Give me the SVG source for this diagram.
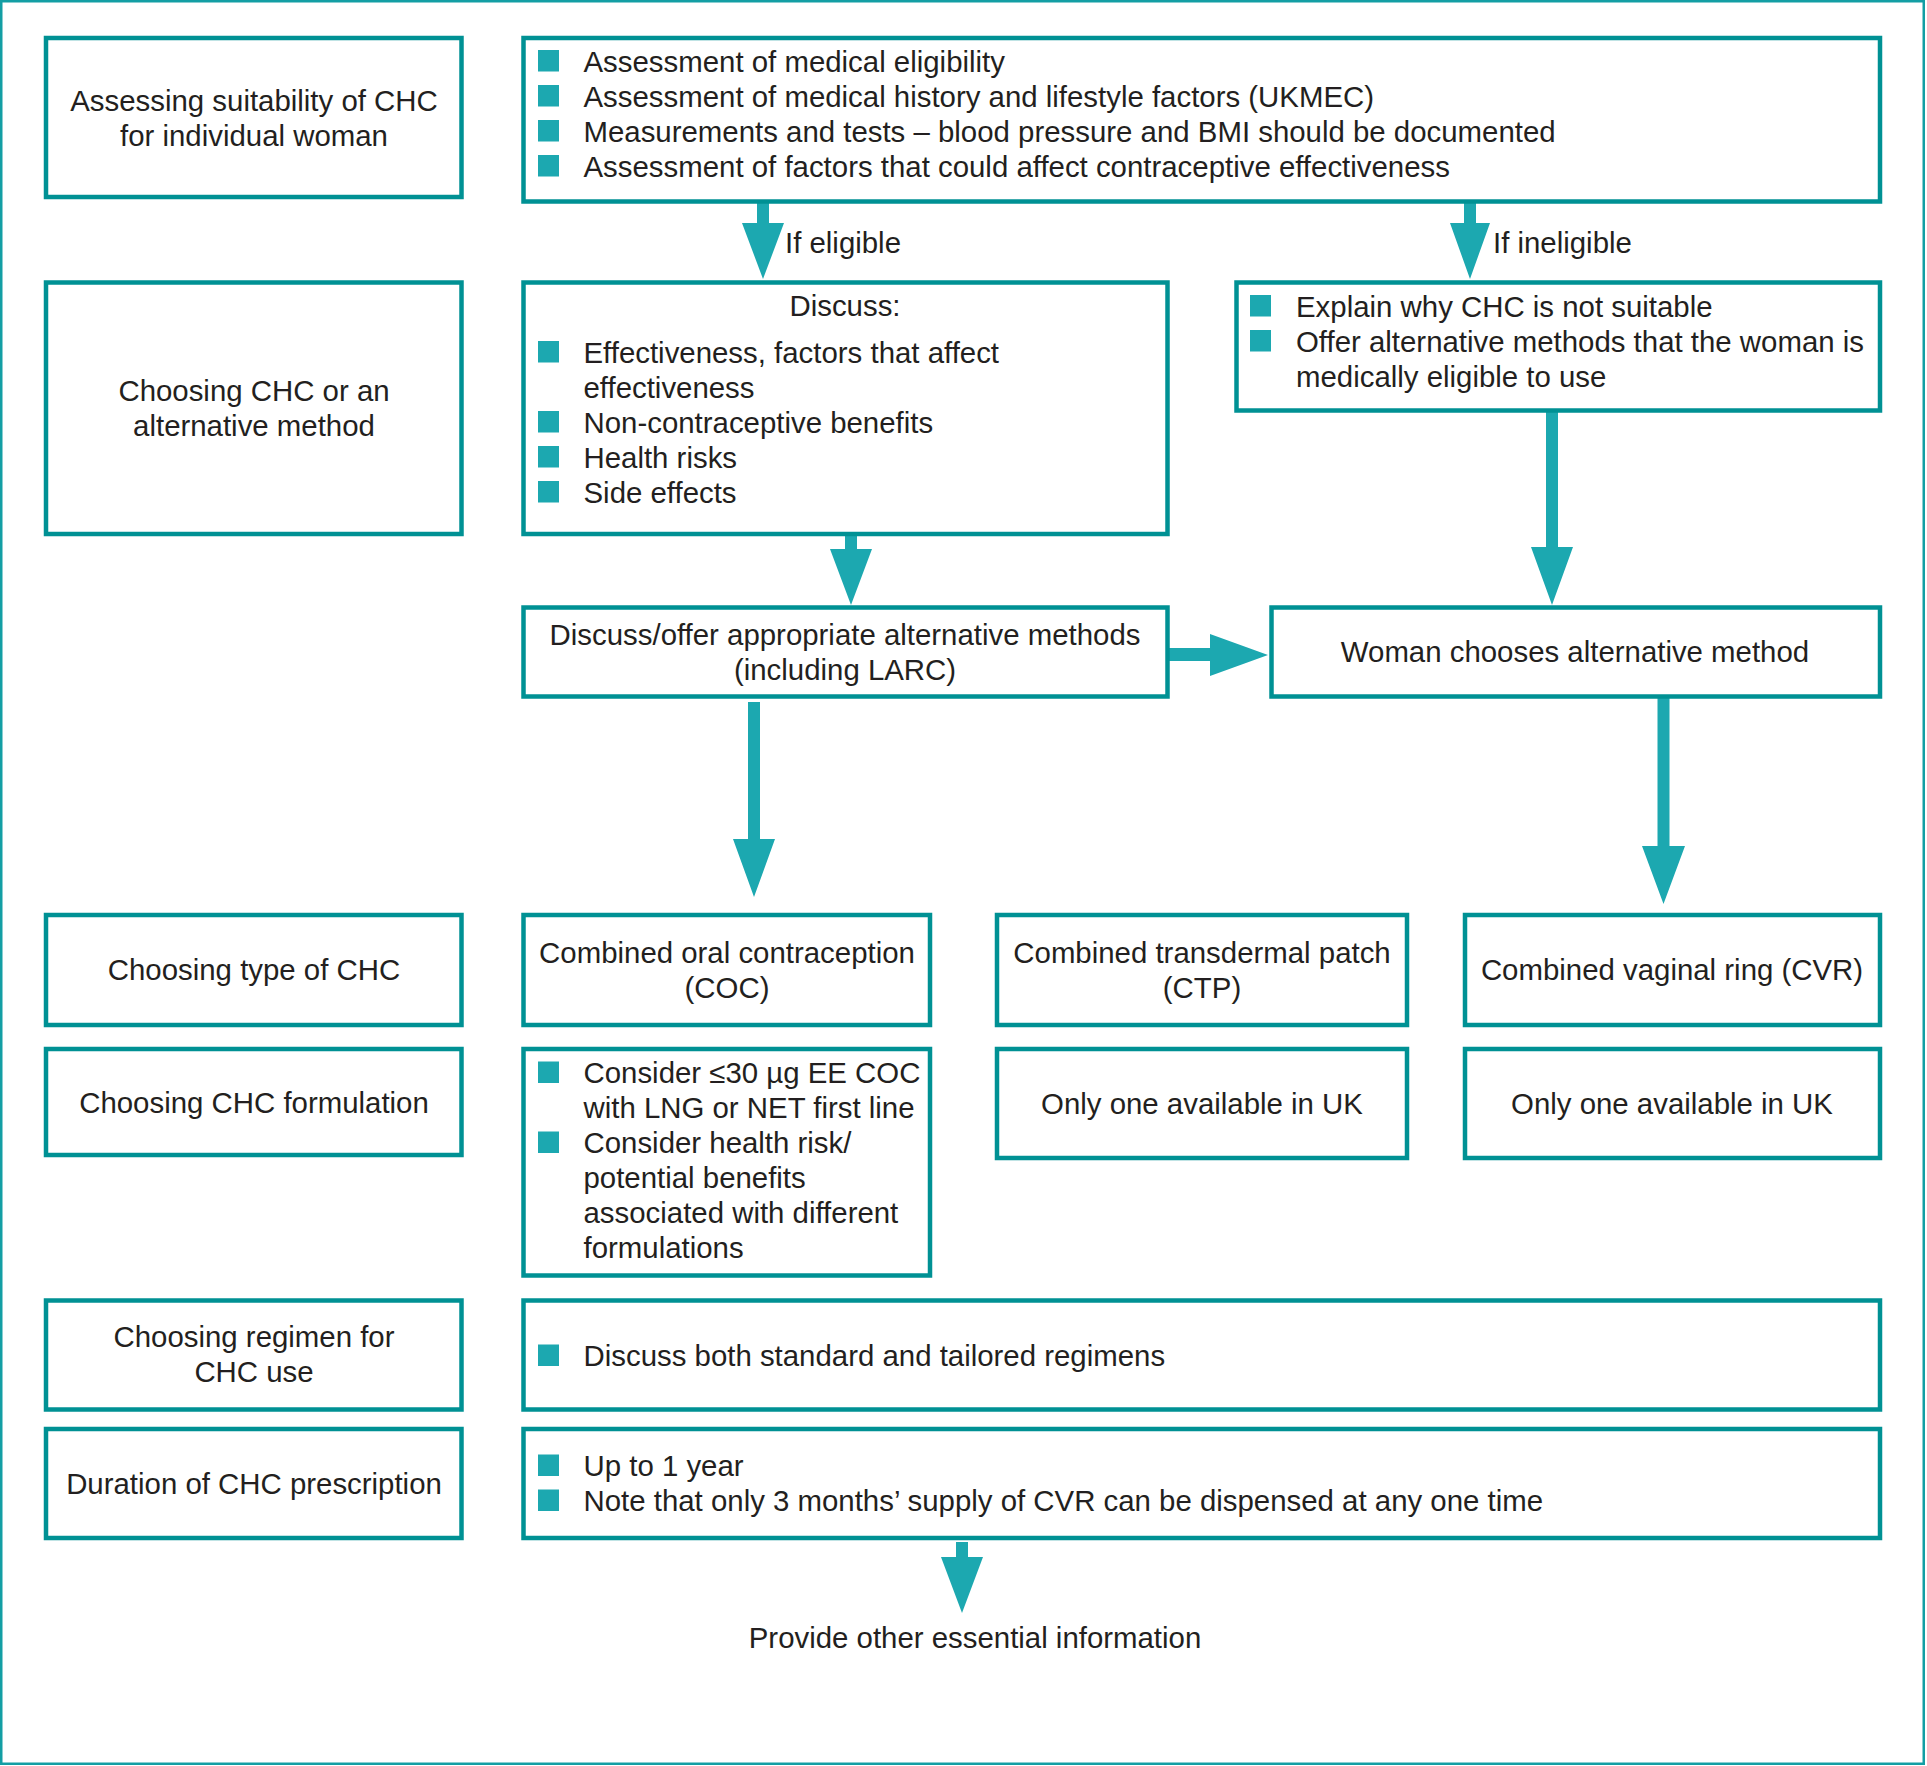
<svg xmlns="http://www.w3.org/2000/svg" width="1927" height="1766" viewBox="0 0 1927 1766">
<style>
.box{fill:#fff;stroke:#009194;stroke-width:4.5}
.frame{fill:#fff;stroke:#139ea4;stroke-width:2.5}
.arr{fill:#1ca8b0}
.bul{fill:#1ca8b0}
text{font-family:"Liberation Sans",Arial,sans-serif;font-size:29.4px;fill:#231f20}
.c{text-anchor:middle}
</style>
<rect class="frame" x="1.25" y="1.25" width="1922.5" height="1762.5"/>
<g id="connectors">
<polygon class="arr" points="757,203 769,203 769,223 784,223 763,279 742,223 757,223"/>
<polygon class="arr" points="1464,203 1476,203 1476,223 1490,223 1470,279 1450,223 1464,223"/>
<polygon class="arr" points="845,536 857,536 857,549 872,549 851,605 830,549 845,549"/>
<polygon class="arr" points="1546,412 1558,412 1558,547 1573,547 1552,605 1531,547 1546,547"/>
<polygon class="arr" points="1169,648 1210,648 1210,634 1268,655 1210,676 1210,661 1169,661"/>
<polygon class="arr" points="748,702 760,702 760,839 775,839 754,897 733,839 748,839"/>
<polygon class="arr" points="1657.5,698 1669.5,698 1669.5,846 1685,846 1663.5,904 1642,846 1657.5,846"/>
<polygon class="arr" points="956,1542 968,1542 968,1557 983,1557 962,1613 941,1557 956,1557"/>
</g>
<g id="n-assess-label">
<rect class="box" x="46" y="38" width="415.5" height="159"/>
<text class="c" x="254" y="111">Assessing suitability of CHC</text>
<text class="c" x="254" y="146">for individual woman</text>
</g>
<g id="n-assess">
<rect class="box" x="523.5" y="38" width="1356.5" height="163.5"/>
<rect class="bul" x="538" y="50" width="21" height="21.5"/>
<rect class="bul" x="538" y="85" width="21" height="21.5"/>
<rect class="bul" x="538" y="120" width="21" height="21.5"/>
<rect class="bul" x="538" y="155" width="21" height="21.5"/>
<text x="583.5" y="72">Assessment of medical eligibility</text>
<text x="583.5" y="107">Assessment of medical history and lifestyle factors (UKMEC)</text>
<text x="583.5" y="142">Measurements and tests – blood pressure and BMI should be documented</text>
<text x="583.5" y="177">Assessment of factors that could affect contraceptive effectiveness</text>
</g>
<g id="labels-branch">
<text x="785" y="253">If eligible</text>
<text x="1493" y="253">If ineligible</text>
</g>
<g id="n-choose-label">
<rect class="box" x="46" y="282.5" width="415.5" height="251.5"/>
<text class="c" x="254" y="401">Choosing CHC or an</text>
<text class="c" x="254" y="436">alternative method</text>
</g>
<g id="n-discuss">
<rect class="box" x="523.5" y="282.5" width="644" height="251.5"/>
<text class="c" x="845" y="316">Discuss:</text>
<rect class="bul" x="538" y="341" width="21" height="21.5"/>
<rect class="bul" x="538" y="411" width="21" height="21.5"/>
<rect class="bul" x="538" y="446" width="21" height="21.5"/>
<rect class="bul" x="538" y="481" width="21" height="21.5"/>
<text x="583.5" y="363">Effectiveness, factors that affect</text>
<text x="583.5" y="398">effectiveness</text>
<text x="583.5" y="433">Non-contraceptive benefits</text>
<text x="583.5" y="468">Health risks</text>
<text x="583.5" y="503">Side effects</text>
</g>
<g id="n-ineligible">
<rect class="box" x="1236.5" y="282.5" width="643.5" height="128"/>
<rect class="bul" x="1250" y="295" width="21" height="21.5"/>
<rect class="bul" x="1250" y="330" width="21" height="21.5"/>
<text x="1296" y="317">Explain why CHC is not suitable</text>
<text x="1296" y="352">Offer alternative methods that the woman is</text>
<text x="1296" y="387">medically eligible to use</text>
</g>
<g id="n-offer">
<rect class="box" x="523.5" y="607.5" width="644" height="89"/>
<text class="c" x="845" y="645">Discuss/offer appropriate alternative methods</text>
<text class="c" x="845" y="680">(including LARC)</text>
</g>
<g id="n-woman">
<rect class="box" x="1271.5" y="607.5" width="608.5" height="89"/>
<text class="c" x="1575" y="662">Woman chooses alternative method</text>
</g>
<g id="n-type-label">
<rect class="box" x="46" y="915" width="415.5" height="110"/>
<text class="c" x="254" y="980">Choosing type of CHC</text>
</g>
<g id="n-coc">
<rect class="box" x="523.5" y="915" width="406.5" height="110"/>
<text class="c" x="727" y="963">Combined oral contraception</text>
<text class="c" x="727" y="998">(COC)</text>
</g>
<g id="n-ctp">
<rect class="box" x="997" y="915" width="410" height="110"/>
<text class="c" x="1202" y="963">Combined transdermal patch</text>
<text class="c" x="1202" y="998">(CTP)</text>
</g>
<g id="n-cvr">
<rect class="box" x="1465" y="915" width="415" height="110"/>
<text class="c" x="1672" y="980">Combined vaginal ring (CVR)</text>
</g>
<g id="n-form-label">
<rect class="box" x="46" y="1049" width="415.5" height="106"/>
<text class="c" x="254" y="1113">Choosing CHC formulation</text>
</g>
<g id="n-coc-form">
<rect class="box" x="523.5" y="1049" width="406.5" height="226.5"/>
<rect class="bul" x="538" y="1061.5" width="21" height="21.5"/>
<rect class="bul" x="538" y="1131.5" width="21" height="21.5"/>
<text x="583.5" y="1083">Consider ≤30 µg EE COC</text>
<text x="583.5" y="1118">with LNG or NET first line</text>
<text x="583.5" y="1153">Consider health risk/</text>
<text x="583.5" y="1188">potential benefits</text>
<text x="583.5" y="1223">associated with different</text>
<text x="583.5" y="1258">formulations</text>
</g>
<g id="n-ctp-form">
<rect class="box" x="997" y="1049" width="410" height="109"/>
<text class="c" x="1202" y="1114">Only one available in UK</text>
</g>
<g id="n-cvr-form">
<rect class="box" x="1465" y="1049" width="415" height="109"/>
<text class="c" x="1672" y="1114">Only one available in UK</text>
</g>
<g id="n-regimen-label">
<rect class="box" x="46" y="1300.5" width="415.5" height="109"/>
<text class="c" x="254" y="1347">Choosing regimen for</text>
<text class="c" x="254" y="1382">CHC use</text>
</g>
<g id="n-regimen">
<rect class="box" x="523.5" y="1300.5" width="1356.5" height="109"/>
<rect class="bul" x="538" y="1344.5" width="21" height="21.5"/>
<text x="583.5" y="1366">Discuss both standard and tailored regimens</text>
</g>
<g id="n-duration-label">
<rect class="box" x="46" y="1429" width="415.5" height="109"/>
<text class="c" x="254" y="1494">Duration of CHC prescription</text>
</g>
<g id="n-duration">
<rect class="box" x="523.5" y="1429" width="1356.5" height="109"/>
<rect class="bul" x="538" y="1454.5" width="21" height="21.5"/>
<rect class="bul" x="538" y="1489.5" width="21" height="21.5"/>
<text x="583.5" y="1476">Up to 1 year</text>
<text x="583.5" y="1511">Note that only 3 months’ supply of CVR can be dispensed at any one time</text>
</g>
<g id="n-provide">
<text class="c" x="975" y="1648">Provide other essential information</text>
</g>
</svg>
